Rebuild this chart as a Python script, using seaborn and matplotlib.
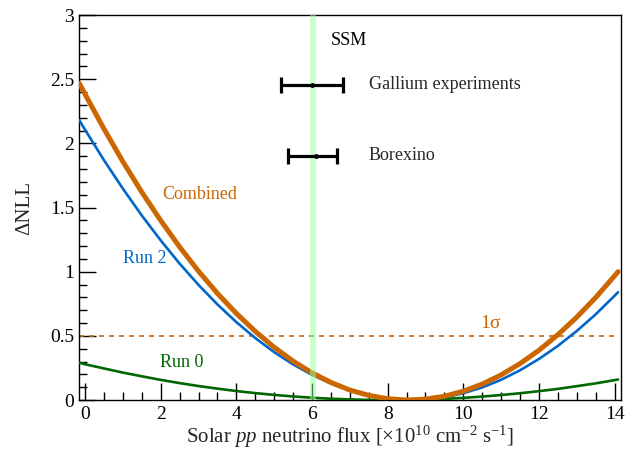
import numpy as np
import pandas as pd
import seaborn as sns
import matplotlib
matplotlib.use("Agg")
import matplotlib.pyplot as plt
from matplotlib.ticker import MultipleLocator, FormatStrFormatter

# ---- data ----
flux = [-0.15, 0.0, 0.5, 1.0, 1.5, 2.0, 2.5, 3.0, 3.5, 4.0, 4.5, 5.0, 5.5, 6.0, 6.5,
        7.0, 7.5, 8.0, 8.5, 9.0, 9.5, 10.0, 10.5, 11.0, 11.5, 12.0, 12.5, 13.0, 13.5,
        14.0, 14.09]
combined = [2.467, 2.383, 2.113, 1.858, 1.620, 1.399, 1.193, 1.004, 0.831, 0.675,
            0.535, 0.411, 0.303, 0.212, 0.137, 0.078, 0.036, 0.010, 0.000, 0.007,
            0.029, 0.069, 0.124, 0.196, 0.284, 0.388, 0.509, 0.646, 0.799, 0.968,
            1.000]
run2 = [2.180, 2.106, 1.869, 1.647, 1.438, 1.244, 1.063, 0.897, 0.745, 0.607,
        0.483, 0.373, 0.278, 0.196, 0.129, 0.076, 0.036, 0.011, 0.001, 0.004,
        0.021, 0.053, 0.098, 0.158, 0.232, 0.320, 0.422, 0.538, 0.668, 0.813,
        0.840]
run0 = [0.290, 0.279, 0.246, 0.214, 0.185, 0.157, 0.132, 0.109, 0.089, 0.070,
        0.054, 0.040, 0.028, 0.018, 0.010, 0.005, 0.001, 0.000, 0.001, 0.004,
        0.009, 0.017, 0.027, 0.039, 0.053, 0.069, 0.087, 0.108, 0.130, 0.155,
        0.160]

ssm_flux = 6.02
one_sigma = 0.5

meas_names = ["Gallium experiments", "Borexino"]
meas_center = [6.0, 6.1]
meas_lo = [5.17, 5.37]
meas_hi = [6.81, 6.67]
meas_y = [2.455, 1.905]

c_comb = "#cc6600"
c_run2 = "#0066cc"
c_run0 = "#006600"

sns.set_theme(style="white")
plt.rcParams["font.family"] = ["Liberation Serif", "DejaVu Serif"]
plt.rcParams["mathtext.fontset"] = "custom"
plt.rcParams["mathtext.rm"] = "Liberation Serif"
plt.rcParams["mathtext.it"] = "Liberation Serif:italic"

fig = plt.figure(figsize=(6.34, 4.51), dpi=100)
ax = fig.add_axes([0.1246, 0.113, 0.979 - 0.1246, 0.9667 - 0.113])

df = pd.DataFrame({"flux": flux, "Combined": combined, "Run 2": run2, "Run 0": run0})

ax.axhline(one_sigma, xmin=0.0, xmax=(14.09 + 0.16) / 14.32, color=c_comb, lw=1.2,
           ls=(0, (3, 3)), zorder=2)

sns.lineplot(data=df, x="flux", y="Run 0", color=c_run0, lw=1.9, ax=ax, zorder=3)
sns.lineplot(data=df, x="flux", y="Run 2", color=c_run2, lw=1.9, ax=ax, zorder=3)
sns.lineplot(data=df, x="flux", y="Combined", color=c_comb, lw=3.6, ax=ax, zorder=4)

ax.axvspan(ssm_flux - 0.08, ssm_flux + 0.08, color="#99ff99", alpha=0.5, lw=0, zorder=5)

for c, lo, hi, y in zip(meas_center, meas_lo, meas_hi, meas_y):
    ax.errorbar([c], [y], xerr=[[c - lo], [hi - c]], fmt="o", ms=2.5, color="black",
                ecolor="black", elinewidth=2.3, capsize=6, capthick=2.3, zorder=6)

fs = 13
ax.text(6.5, 2.8, "SSM", fontsize=fs, va="center", ha="left", color="black")
ax.text(7.5, meas_y[0], meas_names[0], fontsize=fs, va="center", ha="left")
ax.text(7.5, meas_y[1], meas_names[1], fontsize=fs, va="center", ha="left")
ax.text(2.03, 1.6, "Combined", fontsize=fs, va="center", ha="left", color=c_comb)
ax.text(1.0, 1.1, "Run 2", fontsize=fs, va="center", ha="left", color=c_run2)
ax.text(1.98, 0.29, "Run 0", fontsize=fs, va="center", ha="left", color=c_run0)
ax.text(10.45, 0.6, "1σ", fontsize=14, va="center", ha="left", color=c_comb)

ax.set_xlim(-0.16, 14.16)
ax.set_ylim(0, 3)

ax.xaxis.set_major_locator(MultipleLocator(2))
ax.xaxis.set_minor_locator(MultipleLocator(0.5))
ax.yaxis.set_major_locator(MultipleLocator(0.5))
ax.yaxis.set_minor_locator(MultipleLocator(0.1))
ax.yaxis.set_major_formatter(FormatStrFormatter("%g"))
ax.xaxis.set_major_formatter(FormatStrFormatter("%g"))

ax.tick_params(axis="both", which="both", direction="in", top=False, right=False,
               bottom=True, left=True, labelsize=14, colors="black")
ax.tick_params(axis="both", which="major", length=12, width=1)
ax.tick_params(axis="both", which="minor", length=6, width=1)
ax.tick_params(axis="x", which="major", pad=4)

for s in ax.spines.values():
    s.set_visible(True)
    s.set_color("black")
    s.set_linewidth(1.0)

ax.set_xlabel(r"Solar $\mathit{pp}$ neutrino flux [×10$^{\mathrm{10}}$ cm$^{\mathrm{-2}}$ s$^{\mathrm{-1}}$]",
              fontsize=15, labelpad=1)
ax.set_ylabel("ΔNLL", fontsize=15, labelpad=11)
ax.grid(False)

fig.savefig("out.png", dpi=100)
